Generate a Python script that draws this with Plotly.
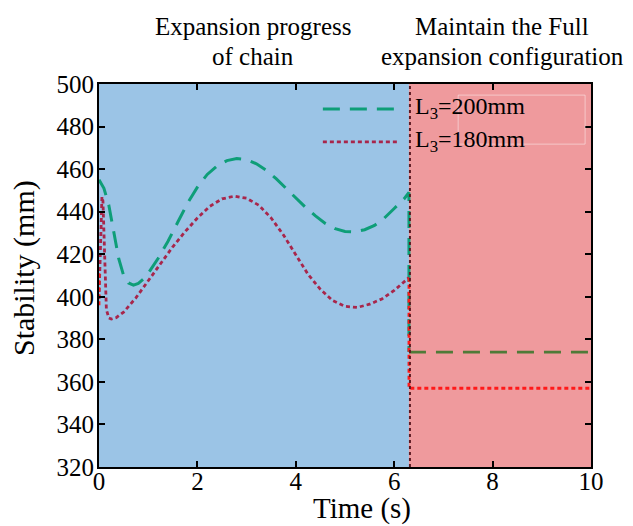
import plotly.graph_objects as go

# ---------------- data ----------------
t_split = 6.3          # end of the chain expansion phase (s)
t_end = 10.0

# L3 = 200 mm, expansion phase
t_200 = [0.0, 0.1, 0.2, 0.3, 0.4, 0.5, 0.6, 0.7, 0.8, 0.9, 1.0, 1.2, 1.4, 1.6, 1.8,
         2.0, 2.2, 2.4, 2.6, 2.8, 3.0, 3.2, 3.4, 3.6, 3.8, 4.0, 4.2, 4.4, 4.6, 4.8,
         5.0, 5.2, 5.4, 5.6, 5.8, 6.0, 6.2, 6.3, 6.3]
v_200 = [455, 451, 443, 430, 418, 410, 406.5, 405.5, 406.3, 408.3, 411, 418, 426,
         435, 444, 451.5, 457.5, 461.5, 464, 465, 464.5, 462.5, 459.5, 455.5, 451,
         446.5, 442, 438, 434.5, 432, 430.7, 430.5, 431.5, 433.5, 437, 441.5, 446,
         449, 374]

# L3 = 180 mm, expansion phase
t_180 = [0.0, 0.035, 0.06, 0.08, 0.1, 0.12, 0.15, 0.2, 0.25, 0.35, 0.5, 0.75, 1.0,
         1.25, 1.5, 1.75, 2.0, 2.25, 2.5, 2.75, 3.0, 3.25, 3.5, 3.75, 4.0, 4.25,
         4.5, 4.75, 5.0, 5.25, 5.5, 5.75, 6.0, 6.15, 6.3]
v_180 = [399, 430, 447, 445, 428, 408, 394, 390, 389.5, 390.2, 392.8, 399.5, 407.5,
         415, 423.5, 430.6, 437, 442.5, 446, 447.3, 446.3, 443, 437, 429, 419.5,
         410.5, 403.5, 398.2, 395.5, 395, 396.5, 399, 403, 405.8, 409]

# full expansion configuration (held)
t_200_full = [t_split, t_end]
v_200_full = [374, 374]
t_180_full = [0.0, 0.0, None, t_split, t_split, t_end]
v_180_full = [411, 395, None, 409, 357, 357]

x_ticks = [0, 2, 4, 6, 8, 10]
y_ticks = [320, 340, 360, 380, 400, 420, 440, 460, 480, 500]
x_range = [0, 10]
y_range = [320, 500]

x_title = "Time (s)"
y_title = "Stability (mm)"
legend_names = ["L<sub>3</sub>=200mm", "L<sub>3</sub>=180mm"]
phase_labels = [["Expansion progress", "of chain"],
                ["Maintain the Full", "expansion configuration"]]

# ---------------- style ----------------
FONT = "Liberation Serif"
C_BLUE_BG = "#9BC4E6"
C_RED_BG = "#EF9A9D"
C_TEAL = "#0E9E78"
C_CRIMSON = "#A8264B"
C_OLIVE = "#4F7A38"
C_RED = "#FF1A1A"
C_BOUND = "#5C1A22"
DASH_G = "17px,10px"
DOT_R = "4px,3px"

fig = go.Figure()

fig.add_trace(go.Scatter(x=t_200, y=v_200, mode="lines", showlegend=False,
                         line=dict(color=C_TEAL, width=3, dash=DASH_G)))
fig.add_trace(go.Scatter(x=t_180, y=v_180, mode="lines", showlegend=False,
                         line=dict(color=C_CRIMSON, width=2.8, dash=DOT_R)))
fig.add_trace(go.Scatter(x=t_200_full, y=v_200_full, mode="lines", showlegend=False,
                         line=dict(color=C_OLIVE, width=2.8, dash=DASH_G)))
fig.add_trace(go.Scatter(x=t_180_full, y=v_180_full, mode="lines", showlegend=False,
                         connectgaps=False,
                         line=dict(color=C_RED, width=2.8, dash=DOT_R)))

# phase backgrounds
fig.add_shape(type="rect", xref="x", yref="y", x0=x_range[0], x1=t_split,
              y0=y_range[0], y1=y_range[1], fillcolor=C_BLUE_BG, line_width=0, layer="below")
fig.add_shape(type="rect", xref="x", yref="y", x0=t_split, x1=x_range[1],
              y0=y_range[0], y1=y_range[1], fillcolor=C_RED_BG, line_width=0, layer="below")
# boundary line
fig.add_shape(type="line", xref="x", yref="y", x0=t_split + 0.02, x1=t_split + 0.02,
              y0=y_range[0], y1=y_range[1], line=dict(color=C_BOUND, width=2, dash="3px,3px"))

# manual legend
L0, L1 = 0.455, 0.608
fig.add_shape(type="rect", xref="paper", yref="paper", x0=0.730, x1=0.988, y0=0.843, y1=0.971,
              line=dict(color="rgba(255,255,255,0.45)", width=1), fillcolor="rgba(0,0,0,0)")
fig.add_shape(type="line", xref="paper", yref="paper", x0=L0, x1=L1, y0=0.935, y1=0.935,
              line=dict(color=C_TEAL, width=3, dash=DASH_G))
fig.add_shape(type="line", xref="paper", yref="paper", x0=L0, x1=L1, y0=0.849, y1=0.849,
              line=dict(color=C_CRIMSON, width=2.8, dash=DOT_R))
for name, yy in zip(legend_names, [0.937, 0.851]):
    fig.add_annotation(text=name, xref="paper", yref="paper", x=0.638, y=yy,
                       xanchor="left", yanchor="middle", showarrow=False,
                       font=dict(family=FONT, size=24, color="black"))

# phase labels
for (l1, l2), xx in zip(phase_labels, [0.314, 0.82]):
    fig.add_annotation(text=l1, xref="paper", yref="paper", x=xx, y=1.149,
                       xanchor="center", yanchor="middle", showarrow=False,
                       font=dict(family=FONT, size=25, color="black"))
    fig.add_annotation(text=l2, xref="paper", yref="paper", x=xx, y=1.073,
                       xanchor="center", yanchor="middle", showarrow=False,
                       font=dict(family=FONT, size=25, color="black"))

# axis titles
fig.add_annotation(text=x_title, xref="paper", yref="paper", x=0.535, y=-0.108,
                   xanchor="center", yanchor="middle", showarrow=False,
                   font=dict(family=FONT, size=29, color="black"))
fig.add_annotation(text=y_title, xref="paper", yref="paper", x=-0.152, y=0.52,
                   xanchor="center", yanchor="middle", showarrow=False, textangle=-90,
                   font=dict(family=FONT, size=30, color="black"))

axis_common = dict(showgrid=False, zeroline=False, showline=True, linecolor="black",
                   linewidth=2, mirror="ticks", ticks="inside", ticklen=6, tickwidth=2,
                   tickcolor="black", automargin=False,
                   tickfont=dict(family=FONT, size=25, color="black"))

fig.update_xaxes(range=x_range, tickvals=x_ticks, ticklabelstandoff=-9, **axis_common)
fig.update_yaxes(range=y_range, tickvals=y_ticks, ticklabelstandoff=-2, **axis_common)

fig.update_layout(width=633, height=526, margin=dict(l=99, r=42, t=84, b=59),
                  paper_bgcolor="white", plot_bgcolor="white", showlegend=False,
                  font=dict(family=FONT))

fig.write_html("out.html")
